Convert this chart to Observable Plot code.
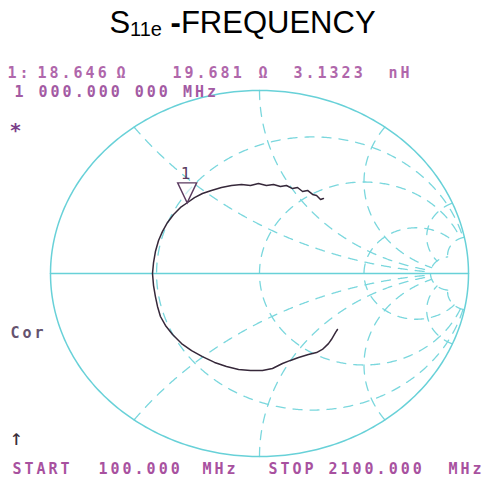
<!DOCTYPE html>
<html><head><meta charset="utf-8">
<script src="https://cdn.jsdelivr.net/npm/d3@7"></script>
<script src="https://cdn.jsdelivr.net/npm/@observablehq/plot@0.6"></script>
<style>
body{margin:0;background:#fff;}
#title{height:46px;font-family:"Liberation Sans",Arial,sans-serif;font-size:31px;text-align:center;line-height:46px;color:#000;padding-right:8px;}
#title sub{font-size:20px;vertical-align:baseline;position:relative;top:3px;}
#chart svg text{letter-spacing:3px;white-space:pre;}
</style></head><body>
<div id="title">S<sub>11e</sub> <b>-</b>FREQUENCY</div>
<div id="chart"></div>
<script>
const traceRe = [0.373,0.364,0.344,0.330,0.301,0.273,0.234,0.187,0.148,0.110,0.062,0.014,-0.043,-0.100,-0.158,-0.215,-0.273,-0.325,-0.373,-0.416,-0.450,-0.474,-0.488,-0.498,-0.507,-0.512,-0.507,-0.498,-0.483,-0.464,-0.440,-0.411,-0.378,-0.344,-0.311,-0.273,-0.230,-0.182,-0.134,-0.086,-0.043,-0.005,0.033,0.067,0.100,0.129,0.158,0.182,0.206,0.230,0.254,0.273,0.292,0.306];
const traceIm = [-0.306,-0.322,-0.361,-0.383,-0.415,-0.432,-0.443,-0.459,-0.475,-0.492,-0.519,-0.530,-0.530,-0.525,-0.508,-0.486,-0.454,-0.421,-0.383,-0.333,-0.284,-0.235,-0.180,-0.126,-0.066,0.000,0.060,0.120,0.180,0.230,0.279,0.322,0.361,0.388,0.415,0.437,0.454,0.470,0.481,0.486,0.481,0.492,0.481,0.486,0.475,0.481,0.464,0.470,0.448,0.454,0.432,0.426,0.404,0.410];
const markerLabel = "1";
const markerR = 18.646;   // ohm
const markerX = 19.681;   // ohm
const Z0 = 50;
// Smith chart graticule values
const resistanceCircles = [0.34, 1, 3, 10];
const reactanceArcs = [0.5, 1, 2, 5, 10, -0.5, -1, -2, -5, -10];
const gridLimit = 10;
// instrument texts
const headerWords = ["1:", "18.646", "Ω", "19.681", "Ω", "3.1323", "nH"];
const freqLine = "1 000.000 000 MHz";
const footerWords = ["START", "100.000", "MHz", "STOP", "2100.000", "MHz"];
const sideLabels = ["*", "Cor", "↑"];

// ---- build ----
function gamma(r, x) {
  const d = (r + 1) * (r + 1) + x * x;
  return [(r * r + x * x - 1) / d, (2 * x) / d];
}
const grid = [];
resistanceCircles.forEach((r, k) => {
  const N = 700, a = Math.atan(gridLimit);
  for (let i = 0; i <= N; i++) {
    const x = Math.tan(-a + 2 * a * i / N);
    const [gr, gi] = gamma(r, x);
    grid.push({id: "r" + k, gr, gi});
  }
});
reactanceArcs.forEach((x, k) => {
  const N = 500, a = Math.atan(gridLimit);
  for (let i = 0; i <= N; i++) {
    const r = Math.tan(a * i / N);
    const [gr, gi] = gamma(r, x);
    grid.push({id: "x" + k, gr, gi});
  }
});
const outer = d3.range(0, 361).map(t => ({gr: Math.cos(t * Math.PI / 180), gi: Math.sin(t * Math.PI / 180)}));
const axisPts = [{gr: -1, gi: 0}, {gr: 1, gi: 0}];
const trace = traceRe.map((v, i) => ({gr: v, gi: traceIm[i]}));
const [mr, mi] = gamma(markerR / Z0, markerX / Z0);
const marker = [{gr: mr, gi: mi, label: markerLabel}];

const downTriangle = {draw(ctx) { ctx.moveTo(-9.5, -20); ctx.lineTo(9.5, -20); ctx.lineTo(0, 0); ctx.closePath(); }};

const FONT = "DejaVu Sans Mono";
const W = 493, H = 438, ML = 50, MT = 44;
function label(t, px, pageY, color, size = 15, weight = "bold") {
  return Plot.text([t], {text: d => d, frameAnchor: "top-left", dx: px - ML, dy: pageY - 46 - MT,
    textAnchor: "start", lineAnchor: "middle", fill: color, fontSize: size, fontWeight: weight, fontFamily: FONT});
}
const headerX = [7, 37, 116, 172, 258, 293, 388];
const footerX = [12, 98, 202, 268, 328, 448];

const cyan = "#7ad7dd";
const plot = Plot.plot({
  width: W, height: H,
  marginLeft: ML, marginRight: 25, marginTop: MT, marginBottom: 28,
  x: {domain: [-1, 1], axis: null},
  y: {domain: [-1, 1], axis: null},
  style: {background: "transparent", overflow: "visible"},
  marks: [
    Plot.line(grid, {x: "gr", y: "gi", z: "id", stroke: cyan, strokeWidth: 1.3, strokeDasharray: "9,8"}),
    Plot.line(outer, {x: "gr", y: "gi", stroke: "#68d1d8", strokeWidth: 1.5}),
    Plot.line(axisPts, {x: "gr", y: "gi", stroke: "#68d1d8", strokeWidth: 1.6}),
    Plot.line(trace, {x: "gr", y: "gi", stroke: "#36283a", strokeWidth: 1.5}),
    Plot.dot(marker, {x: "gr", y: "gi", symbol: downTriangle, r: 5, fill: "white", fillOpacity: 0.6, stroke: "#5b3b60", strokeWidth: 1.4}),
    Plot.text(marker, {x: "gr", y: "gi", text: "label", dy: -29, fill: "#5b3b60", fontSize: 16, fontFamily: FONT}),
    ...headerWords.map((t, i) => label(t, headerX[i], 72.5, "#b067ab")),
    label(freqLine, 14, 91.5, "#a35aa3"),
    label(sideLabels[0], 9, 130, "#7b3f8a", 20),
    label(sideLabels[1], 10, 333, "#65526f"),
    label(sideLabels[2], 9, 437, "#3b2f3b", 22, "normal"),
    ...footerWords.map((t, i) => label(t, footerX[i], 469, "#a8519f"))
  ]
});
document.getElementById("chart").appendChild(plot);
</script></body></html>
